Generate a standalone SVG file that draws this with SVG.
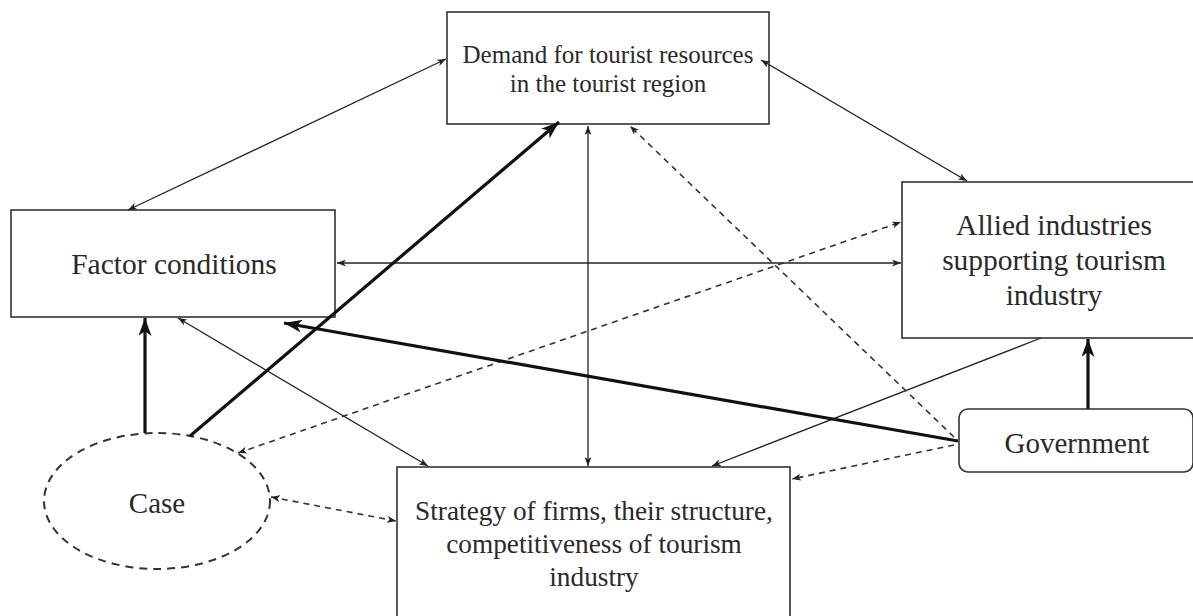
<svg xmlns="http://www.w3.org/2000/svg" width="1193" height="616" viewBox="0 0 1193 616">
<style>
.box{fill:#fff;stroke:#333;stroke-width:1.6}
.t{font-family:"Liberation Serif",serif;fill:#2a2a2a;text-anchor:middle}
.thin{fill:none;stroke:#222;stroke-width:1.3}
.dash{fill:none;stroke:#333;stroke-width:1.6;stroke-dasharray:6,5}
.thick{fill:none;stroke:#111;stroke-width:3.2}
</style>
<defs>
<marker id="a" markerUnits="userSpaceOnUse" markerWidth="9" markerHeight="7" refX="9" refY="3.5" orient="auto-start-reverse"><path d="M0,0 L9,3.5 L0,7 L2.5,3.5 z" fill="#222"/></marker>
<marker id="A" markerUnits="userSpaceOnUse" markerWidth="18" markerHeight="13" refX="18" refY="6.5" orient="auto"><path d="M0,0 L18,6.5 L0,13 L5,6.5 z" fill="#111"/></marker>
</defs>
<rect width="1193" height="616" fill="#fff"/>
<g id="demand"><rect class="box" x="447" y="12" width="322" height="112"/><text class="t" font-size="25" x="608" y="63">Demand for tourist resources</text><text class="t" font-size="25" x="608" y="92">in the tourist region</text></g>
<g id="factor"><rect class="box" x="11" y="210" width="324" height="107"/><text class="t" font-size="29.5" x="174" y="274">Factor conditions</text></g>
<g id="allied"><rect class="box" x="902" y="182" width="292" height="156"/><text class="t" font-size="29.5" x="1054" y="235">Allied industries</text><text class="t" font-size="29.5" x="1054" y="270">supporting tourism</text><text class="t" font-size="29.5" x="1054" y="305">industry</text></g>
<g id="government"><rect class="box" x="959" y="409" width="234" height="63" rx="9"/><text class="t" font-size="29" x="1077" y="453">Government</text></g>
<g id="case"><ellipse cx="157" cy="501" rx="113" ry="68" fill="#fff" stroke="#333" stroke-width="2" stroke-dasharray="8,6"/><text class="t" font-size="29" x="157" y="513">Case</text></g>
<g id="strategy"><rect class="box" x="397" y="467" width="393" height="160"/><text class="t" font-size="27.3" x="594" y="520">Strategy of firms, their structure,</text><text class="t" font-size="27.3" x="594" y="553">competitiveness of tourism</text><text class="t" font-size="27.3" x="594" y="586">industry</text></g>
<g id="connectors">
<line class="thin" x1="128" y1="210" x2="446" y2="59" marker-start="url(#a)" marker-end="url(#a)"/>
<line class="thin" x1="761" y1="60" x2="967" y2="181" marker-start="url(#a)" marker-end="url(#a)"/>
<line class="thin" x1="337" y1="263" x2="901" y2="263" marker-start="url(#a)" marker-end="url(#a)"/>
<line class="thin" x1="588" y1="126" x2="588" y2="466" marker-start="url(#a)" marker-end="url(#a)"/>
<line class="thin" x1="1041" y1="338" x2="712" y2="466" marker-end="url(#a)"/>
<line class="thin" x1="428" y1="466" x2="178" y2="318" marker-start="url(#a)" marker-end="url(#a)"/>
<line class="dash" x1="954" y1="437" x2="630" y2="126" marker-end="url(#a)"/>
<line class="dash" x1="954" y1="445" x2="792" y2="479" marker-end="url(#a)"/>
<line class="dash" x1="238" y1="453" x2="901" y2="222" marker-start="url(#a)" marker-end="url(#a)"/>
<line class="dash" x1="271" y1="497" x2="396" y2="521" marker-start="url(#a)" marker-end="url(#a)"/>
<line class="thick" x1="145" y1="433" x2="145" y2="318" marker-end="url(#A)"/>
<line class="thick" x1="190" y1="436" x2="559" y2="122" marker-end="url(#A)"/>
<line class="thick" x1="958" y1="441" x2="284" y2="323" marker-end="url(#A)"/>
<line class="thick" x1="1088" y1="409" x2="1088" y2="339" marker-end="url(#A)"/>
</g>
</svg>
